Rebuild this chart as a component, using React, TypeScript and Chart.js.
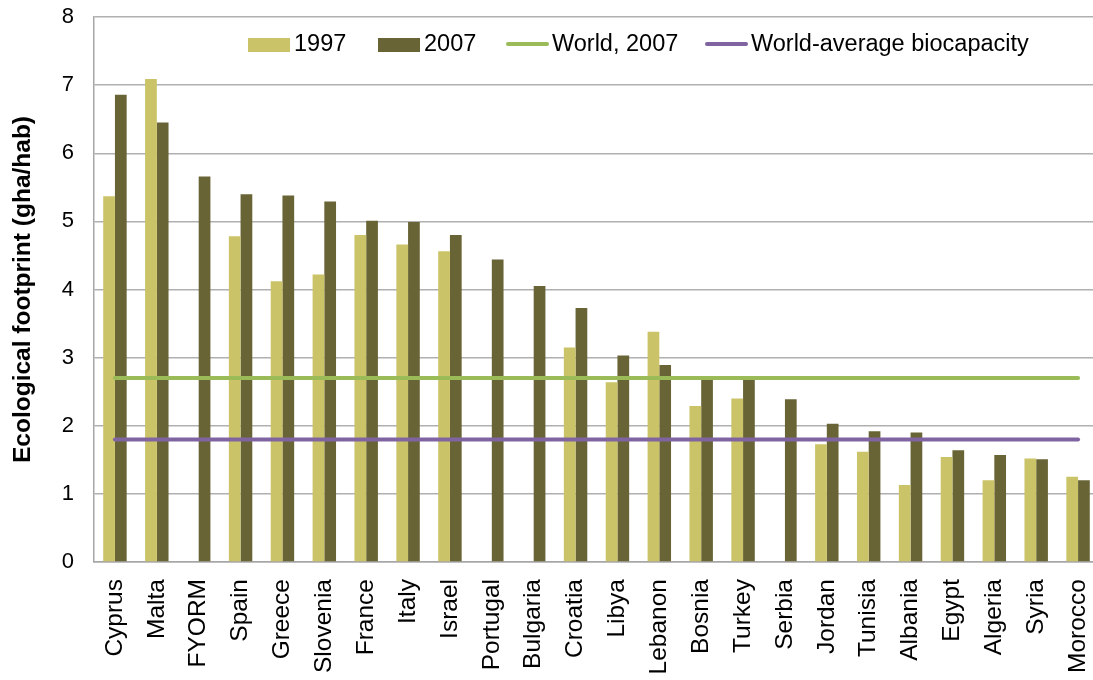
import React, { useEffect, useRef } from 'react';
import { Chart, registerables } from 'chart.js';

Chart.register(...registerables);

const CATEGORIES = [
  'Cyprus', 'Malta', 'FYORM', 'Spain', 'Greece', 'Slovenia', 'France', 'Italy',
  'Israel', 'Portugal', 'Bulgaria', 'Croatia', 'Libya', 'Lebanon', 'Bosnia',
  'Turkey', 'Serbia', 'Jordan', 'Tunisia', 'Albania', 'Egypt', 'Algeria', 'Syria', 'Morocco',
];

const VALUES_1997 = [
  5.37, 7.09, null, 4.78, 4.12, 4.22, 4.80, 4.66,
  4.56, null, null, 3.15, 2.64, 3.38, 2.29,
  2.40, null, 1.73, 1.62, 1.13, 1.54, 1.20, 1.52, 1.25,
];

const VALUES_2007 = [
  6.86, 6.45, 5.66, 5.40, 5.38, 5.29, 5.01, 4.99,
  4.80, 4.44, 4.05, 3.73, 3.03, 2.89, 2.73,
  2.68, 2.39, 2.03, 1.92, 1.90, 1.64, 1.57, 1.51, 1.20,
];

const WORLD_2007 = 2.7;
const WORLD_BIOCAPACITY = 1.8;

const Y_TICKS = [0, 1, 2, 3, 4, 5, 6, 7, 8];

const FONT = '"Liberation Sans", Arial, sans-serif';
const COLOR_1997 = '#CBC367';
const COLOR_2007 = '#686436';
const COLOR_WORLD = '#9BBB59';
const COLOR_BIO = '#8064A2';

const legendPlugin = {
  id: 'customLegend',
  afterDraw(chart: any) {
    const ctx = chart.ctx;
    const starts = [248, 378, 506, 705];
    ctx.save();
    ctx.font = `23.5px ${FONT}`;
    ctx.textBaseline = 'middle';
    ctx.textAlign = 'left';
    chart.data.datasets.forEach((ds: any, i: number) => {
      const x = starts[i];
      const cy = 44;
      if (ds.type === 'line') {
        ctx.strokeStyle = ds.borderColor;
        ctx.lineWidth = 4;
        ctx.lineCap = 'round';
        ctx.beginPath();
        ctx.moveTo(x + 2, cy);
        ctx.lineTo(x + 41, cy);
        ctx.stroke();
      } else {
        ctx.fillStyle = ds.backgroundColor;
        ctx.fillRect(x, 38, 42, 14);
      }
      ctx.fillStyle = '#000';
      ctx.fillText(ds.label, x + 46, cy + 1);
    });
    ctx.restore();
  },
};

export default function App() {
  const ref = useRef<HTMLCanvasElement>(null);

  useEffect(() => {
    document.body.style.margin = '0';
    document.body.style.overflow = 'hidden';
    const first = CATEGORIES[0];
    const last = CATEGORIES[CATEGORIES.length - 1];
    const chart = new Chart(ref.current as HTMLCanvasElement, {
      type: 'bar',
      data: {
        labels: CATEGORIES,
        datasets: [
          {
            type: 'bar',
            label: '1997',
            data: VALUES_1997 as any,
            backgroundColor: COLOR_1997,
            borderWidth: 0,
            categoryPercentage: 0.56,
            barPercentage: 1,
            order: 2,
          },
          {
            type: 'bar',
            label: '2007',
            data: VALUES_2007,
            backgroundColor: COLOR_2007,
            borderWidth: 0,
            categoryPercentage: 0.56,
            barPercentage: 1,
            order: 2,
          },
          {
            type: 'line',
            label: 'World, 2007',
            data: [{ x: first, y: WORLD_2007 }, { x: last, y: WORLD_2007 }] as any,
            borderColor: COLOR_WORLD,
            backgroundColor: COLOR_WORLD,
            borderWidth: 4,
            borderCapStyle: 'round',
            pointRadius: 0,
            order: 1,
          },
          {
            type: 'line',
            label: 'World-average biocapacity',
            data: [{ x: first, y: WORLD_BIOCAPACITY }, { x: last, y: WORLD_BIOCAPACITY }] as any,
            borderColor: COLOR_BIO,
            backgroundColor: COLOR_BIO,
            borderWidth: 4,
            borderCapStyle: 'round',
            pointRadius: 0,
            order: 0,
          },
        ],
      } as any,
      options: {
        responsive: false,
        animation: false,
        devicePixelRatio: 1,
        layout: { padding: { top: 17, right: 1, bottom: 0, left: 0 } },
        plugins: {
          legend: { display: false },
          tooltip: { enabled: false },
        },
        scales: {
          x: {
            type: 'category',
            grid: { display: false, drawTicks: false },
            border: { display: true, color: '#A6A6A6', width: 1.5 },
            ticks: {
              minRotation: 90,
              maxRotation: 90,
              autoSkip: false,
              padding: 17,
              color: '#000',
              font: { family: FONT, size: 24.5 },
            },
            afterFit: (s: any) => {
              s.height = 118;
              s.paddingLeft = 0;
              s.paddingRight = 0;
            },
          },
          y: {
            min: Y_TICKS[0],
            max: Y_TICKS[Y_TICKS.length - 1],
            afterBuildTicks: (s: any) => { s.ticks = Y_TICKS.map((v) => ({ value: v })); },
            ticks: {
              padding: 20,
              color: '#000',
              font: { family: FONT, size: 22 },
            },
            grid: { color: '#B0B0B0', lineWidth: 1.5, drawTicks: false },
            border: { color: '#A6A6A6', width: 1.5 },
            title: {
              display: true,
              text: 'Ecological footprint (gha/hab)',
              color: '#000',
              font: { family: FONT, size: 24.5, weight: 'bold' },
              padding: { top: 9, bottom: 0 },
            },
            afterFit: (s: any) => {
              s.width = 94;
              s.paddingTop = 0;
              s.paddingBottom = 0;
            },
          },
        },
      } as any,
      plugins: [legendPlugin],
    });
    return () => chart.destroy();
  }, []);

  return (
    <div style={{ position: 'fixed', left: 0, top: 0, width: 1093, height: 680, overflow: 'hidden', background: '#fff' }}>
      <canvas ref={ref} width={1100} height={680} style={{ display: 'block', width: 1100, height: 680 }} />
    </div>
  );
}
